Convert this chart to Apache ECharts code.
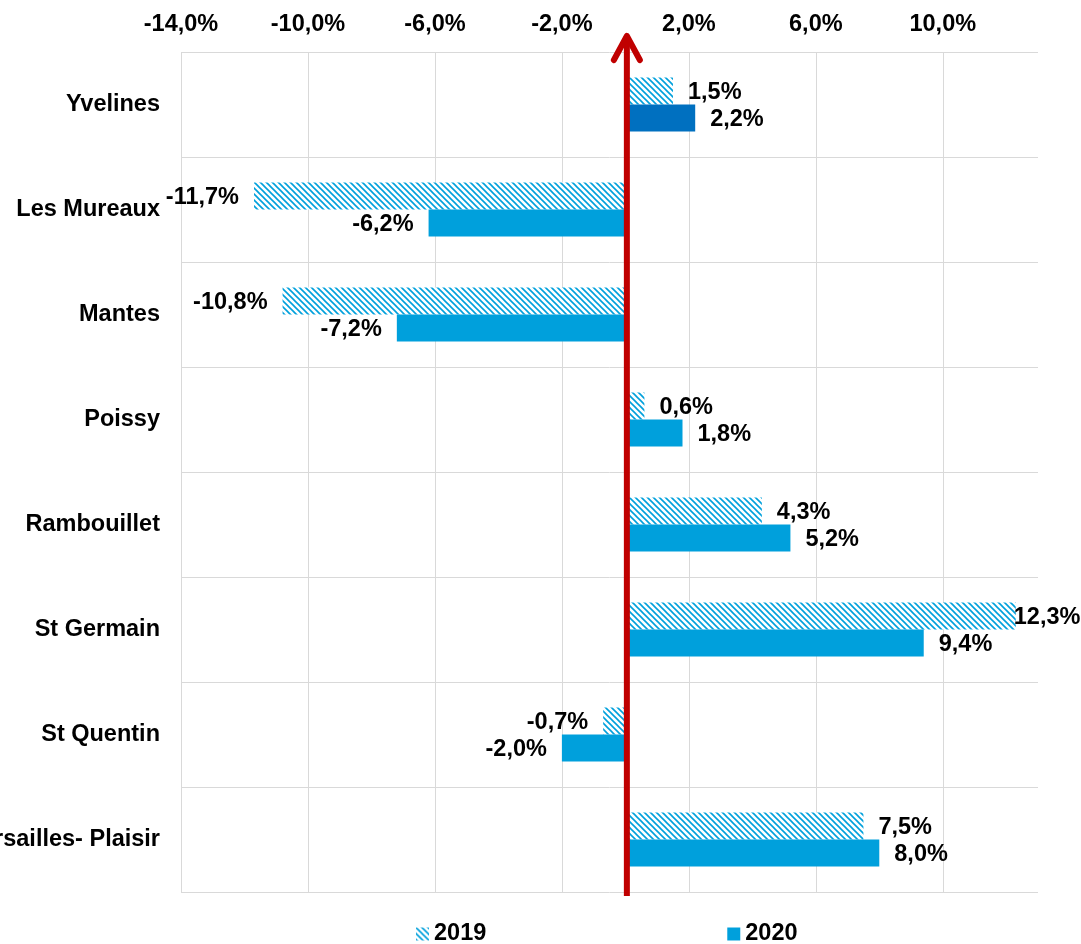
<!DOCTYPE html>
<html>
<head>
<meta charset="utf-8">
<script src="https://cdn.jsdelivr.net/npm/echarts@6/dist/echarts.min.js"></script>
<style>
  html, body { margin: 0; padding: 0; background: #fff; }
  #chart { width: 1081px; height: 944px; }
</style>
</head>
<body>
<div id="chart"></div>
<script>
// data
const categories = ['Yvelines', 'Les Mureaux', 'Mantes', 'Poissy', 'Rambouillet', 'St Germain', 'St Quentin', 'Versailles- Plaisir'];
const values2019 = [1.5, -11.7, -10.8, 0.6, 4.3, 12.3, -0.7, 7.5];
const values2020 = [2.2, -6.2, -7.2, 1.8, 5.2, 9.4, -2.0, 8.0];
const seriesNames = ['2019', '2020'];

const BLUE = '#00a0dc';
const DARK_BLUE = '#0070c0';
const FONT = "'Liberation Sans', Arial, sans-serif";

// hatch pattern for 2019 bars
function makeHatch() {
  const s = 6;
  const c = document.createElement('canvas');
  c.width = s; c.height = s;
  const ctx = c.getContext('2d');
  ctx.fillStyle = '#fff';
  ctx.fillRect(0, 0, s, s);
  ctx.strokeStyle = BLUE;
  ctx.lineWidth = 1.6;
  ctx.beginPath();
  ctx.moveTo(-1, -1); ctx.lineTo(s + 1, s + 1);
  ctx.moveTo(s - 1, -1); ctx.lineTo(s + 1, 1);
  ctx.moveTo(-1, s - 1); ctx.lineTo(1, s + 1);
  ctx.stroke();
  return c;
}
const hatch = { image: makeHatch(), repeat: 'repeat' };

const fmt = v => v.toFixed(1).replace('.', ',') + '%';

const labelStyle = {
  show: true,
  color: '#000',
  fontFamily: FONT,
  fontWeight: 'bold',
  fontSize: 23.5,
  distance: 15,
  offset: [0, 2],
  formatter: p => fmt(p.value)
};

function toItems(vals, first) {
  return vals.map((v, i) => {
    const item = { value: v, label: { position: v < 0 ? 'left' : 'right' } };
    // the 12,3% label is pushed back inside the chart in the original
    if (v > 12) item.label.distance = -2;
    if (first && i === 0) item.itemStyle = { color: DARK_BLUE };
    return item;
  });
}

const chart = echarts.init(document.getElementById('chart'));

const gridLines = ['#d9d9d9', '#d9d9d9', '#d9d9d9', '#d9d9d9', '#d9d9d9', '#d9d9d9', '#d9d9d9', 'rgba(0,0,0,0)'];

const option = {
  animation: false,
  backgroundColor: '#fff',
  grid: { left: 181, right: 43, top: 52, bottom: 52, containLabel: false, outerBoundsMode: 'none' },
  legend: {
    data: seriesNames,
    left: 416,
    top: 922,
    padding: 0,
    icon: 'rect',
    itemWidth: 13,
    itemHeight: 13,
    itemGap: 241,
    textStyle: { color: '#000', fontFamily: FONT, fontWeight: 'bold', fontSize: 23.5 }
  },
  xAxis: {
    type: 'value',
    position: 'top',
    min: -14,
    max: 13,
    interval: 4,
    axisLine: { show: false },
    axisTick: { show: false },
    splitLine: { show: true, lineStyle: { color: gridLines, width: 1 } },
    axisLabel: {
      color: '#000',
      fontFamily: FONT,
      fontWeight: 'bold',
      fontSize: 23.5,
      margin: 15,
      showMaxLabel: false,
      formatter: v => fmt(v)
    }
  },
  yAxis: {
    type: 'category',
    inverse: true,
    data: categories,
    axisLine: { show: false },
    axisTick: { show: false },
    splitLine: { show: true, lineStyle: { color: '#d9d9d9', width: 1 } },
    axisLabel: {
      color: '#000',
      fontFamily: FONT,
      fontWeight: 'bold',
      fontSize: 23.5,
      margin: 21
    }
  },
  series: [
    {
      name: seriesNames[0],
      type: 'bar',
      barWidth: 27,
      barGap: '0%',
      itemStyle: { color: hatch },
      label: labelStyle,
      data: toItems(values2019, false)
    },
    {
      name: seriesNames[1],
      type: 'bar',
      barWidth: 27,
      barGap: '0%',
      itemStyle: { color: BLUE },
      label: labelStyle,
      data: toItems(values2020, true)
    }
  ]
};

chart.setOption(option);

// red vertical arrow on the zero line
const x0 = chart.convertToPixel({ xAxisIndex: 0 }, 0) + 1.5;
const gridTop = 52, gridBottom = 892;
chart.setOption({
  graphic: [
    {
      type: 'line',
      z: 100,
      shape: { x1: x0, y1: gridBottom + 4, x2: x0, y2: gridTop - 16 },
      style: { stroke: '#c00000', lineWidth: 6 }
    },
    {
      type: 'polyline',
      z: 100,
      shape: { points: [[x0 - 13, gridTop + 8], [x0, gridTop - 16], [x0 + 13, gridTop + 8]] },
      style: { stroke: '#c00000', lineWidth: 6, lineCap: 'round', lineJoin: 'round', fill: null }
    }
  ]
});
</script>
</body>
</html>
